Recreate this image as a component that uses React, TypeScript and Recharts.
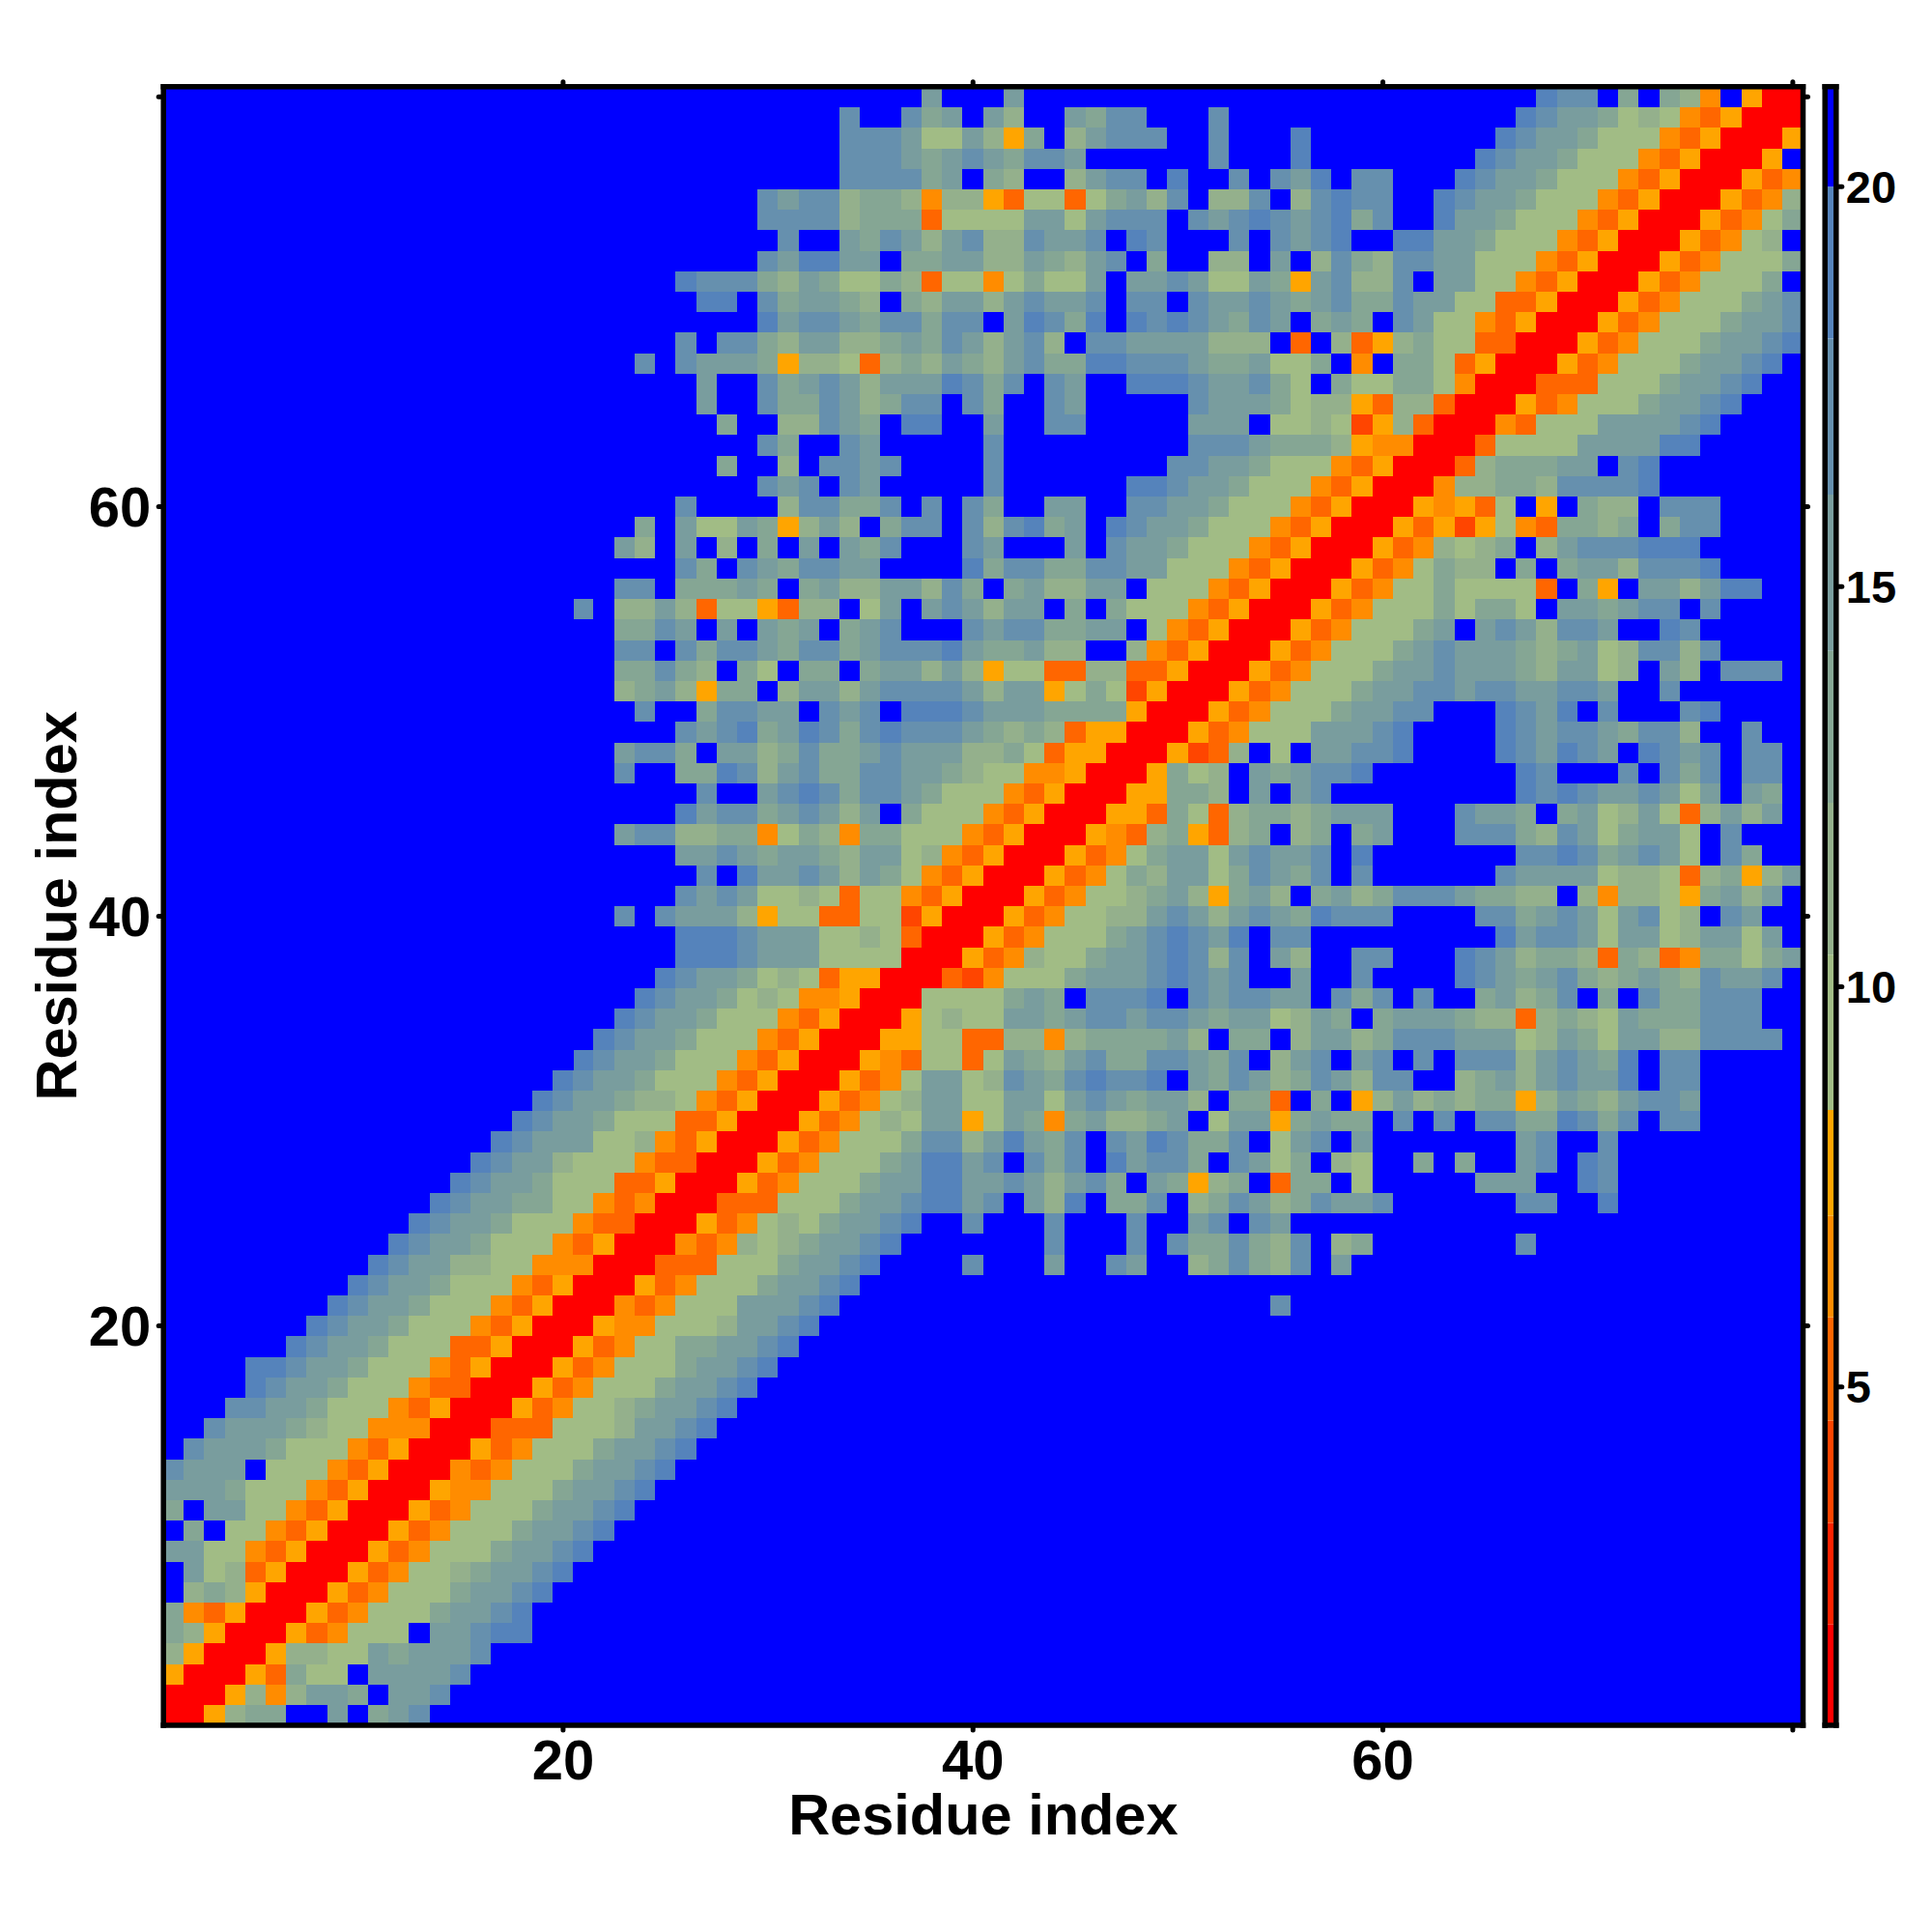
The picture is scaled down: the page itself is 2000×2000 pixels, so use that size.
import React from "react";
import { Bar, BarChart, Scatter, ScatterChart, XAxis, YAxis } from "recharts";

// distance matrix is symmetric, so only the half with column <= row is listed
// rows 1-32, starting at column 1
const nearRows = [
  "R",
  "RR",
  "YRR",
  "2YRR",
  "32YRR",
  "3OPYRR",
  "B232YRR",
  "B412PYRR",
  "4411OPYRR",
  "B3B11OPYRR",
  "3B4411OPYRR",
  "444311 1OPYRR",
  "5444B111OPYRR",
  "B54443111OPYRR",
  "BB5444321 1OOORR",
  "BBB55443111OPYRR",
  "BBBB65443111OPPRR",
  "BBBB665443111OPYRR",
  "BBBBBB65443111PPYRR",
  "BBBBBBB65443111OPYRR",
  "BBBBBBBB65443111OPYR R",
  "BBBBBBBBB65443111OPY RR",
  "BBBBBBBBBB65442211OO ORR",
  "BBBBBBBBBBB65443111O PYRR",
  "BBBBBBBBBBBB65443111 OPPRR",
  "BBBBBBBBBBBBB6544331 1OPORR",
  "BBBBBBBBBBBBBB654431 11PPYRR",
  "BBBBBBBBBBBBBBB65442 111OPPRR",
  "BBBBBBBBBBBBBBBB6544 4112OPYRR",
  "BBBBBBBBBBBBBBBBB654 43111PPYRR",
  "BBBBBBBBBBBBBBBBBB65 443221OPYRR",
  "BBBBBBBBBBBBBBBBBBB6 5443111OPYRR",
];

// rows 33-80, starting at column 21 (everything further left is blue)
const farRows = [
  "65443111OPYRR",
  "B65443111OPYRR",
  "BB65443111OPYRR",
  "BBB65443121OOYRR",
  "BBBB65443121PYYRR",
  "BBBBB666544411 11RR",
  "BBBBB66654441121PRR",
  "BB5B54442Y11PP11QYRR",
  "BBBBB54541121P11OPYR R",
  "BBBBBB5B644542431OPY RR",
  "BBBBB4454344324412OP YRR",
  "BB4552233O132O33111O PYRR",
  "BBBBB6455345424B3111 OPYRR",
  "BBBBBB5BB45653554311 1OPYRR",
  "BB5BB336524533554432 11OOYRR",
  "BB4553B4423533454442 231PYYRR",
  "BBBBB545634653565554 3232PYYRR",
  "BBB5BB35544B545B6665 4443333YRR",
  "BB2342Y33B2442455554 244Y131QYRR",
  "BB33532B31B33B344242 Y11PP22PPYRR",
  "BB55B535543553455564 33422BB2OPYRR",
  "BB3354B4B434B345BBB5 4553344B1OPYRR",
  "5B2242P11YP22B14B454 244B3B3111OPYRR",
  "BB55B33343B342244253 B342244B111OPYRR",
  "BBBBB53B5435544BBBB6 355335544111OPYRR",
  "BB42B4B2B3B4B435BBB5 4BBB4B5443111OPYRR",
  "BBB3B41143Y242B355B5 25634B65443111OPYRR",
  "BBBBB5BBBB255335B5B5 3BB44BB55443111OPYRR",
  "BBBBBBBBB545B54BBBBB 5BBBBBB665443111OPYR R",
  "BBBBBBB3BB2B5545BBBB 5BBBBBBBB55443111OPY RR",
  "BBBBBBBBB53BB54BBBBB 5BBBBBBBBB55543332YO ORR",
  "BBBBBBB3BB22543B66BB 4BB55BBBBB444B1121QY 2PRR",
  "BBBBBB4BB533542355B5 3BB54BBBBB54443122YP 22PRR",
  "BBBBBB4BB53454244465 35B54BB666544531B311 331ORR",
  "BBB5B54443Y221P23243 24533665554334113BOB 331PYRR",
  "BBBBB5B5532442234354 2452B554444222BPB2PY 2311PPRR",
  "BBBBBBBBB64554355355 B46536B65654354B343B 5411OPYRR",
  "BBBBBB66B534432B3244 245445B55B5445434533 54411PPYRR",
  "BBBBB655532431132P11 O13114B44541143Y4522 5B4411OPYRR",
  "BBBBBBBBB546644B3344 2243245B3BB22B4B2532 5544111OPYRR",
  "BBBBBBBBBB5BB4354245 225445B65BBB5B5456BB 66443111OPYRR",
  "BBBBBBBBB55552333P11 114414555B5456545635 BB6443111OPYRR",
  "BBBBBBBBB54552332O22 YP11P13425B225B25655 BB65443111OPYRR",
  "BBBBBBBBBBBBB555534B 32BB2455B6BB5B546B55 BBB65443111OPYRR",
  "BBBBBBBBBBBBB5554345 43554BBBBBB5BBB6BBBB BBBB65443111OPYRR",
  "BBBBBBBBBBBBB5554114 2Y3B24555BB5BBB6BBBB BBBBB65443111OPYRR",
  "BBBBBBBBBBBBB5BB534B 42BB4355BBB5BBBBBBBB BBBBBB65443121OPYRR",
  "BBBBBBBBBBBBBBBBB4BB B4BBBBBBBBBBBBBBBBBB BBBBBBB655B3B32OBYRR",
];

// estimated value of each letter used in the rows above
const letterValues: Record<string, number> = {
  R: 1.4, Q: 3.9, P: 5.2, O: 6.5, Y: 7.8,
  "1": 9.4, "2": 11.3, "3": 13.2, "4": 15.2, "5": 17.1, "6": 19, B: 21,
};

const bandEdges = [0.77, 2.03, 3.3, 4.58, 5.87, 7.14, 8.46, 10.4, 12.3, 14.2, 16.15, 18.1, 20, 21.25];
const bandColors = [
  "#ff0000", "#ff2200", "#ff4500", "#ff6600", "#ff8c00", "#ffa500",
  "#a1bc85", "#94b08c", "#85a694", "#799d9e", "#6690ae", "#5583bb", "#0000ff",
];

const axisTicks = [20, 40, 60, 80];
const barTicks = [5, 10, 15, 20];
const cornerPoints = [{ x: 1, y: 1 }, { x: 80, y: 80 }];

const FONT = "'Liberation Sans', Arial, sans-serif";
const LEFT = 169.2;
const RIGHT = 1866.5;
const TOP = 89.7;
const BOTTOM = 1786;
const CELL = (RIGHT - LEFT) / 80;
const BAR_LEFT = 1889.2;
const BAR_RIGHT = 1900.8;

function colorFor(value: number) {
  const i = bandEdges.findIndex((e) => value < e);
  return bandColors[i - 1];
}

const cells: { x: number; y: number; value: number }[] = [];
const addRow = (text: string, row: number, startCol: number) => {
  text.replace(/ /g, "").split("").forEach((ch, i) => {
    const col = startCol + i;
    const value = letterValues[ch];
    cells.push({ x: col, y: row, value });
    if (col !== row) cells.push({ x: row, y: col, value });
  });
};
nearRows.forEach((t, i) => addRow(t, i + 1, 1));
farRows.forEach((t, i) => addRow(t, i + 33, 21));
// the left part of rows 33-80 is plain blue
for (let row = 33; row <= 80; row++) {
  for (let col = 1; col <= 20; col++) {
    cells.push({ x: col, y: row, value: letterValues.B });
    cells.push({ x: row, y: col, value: letterValues.B });
  }
}

const bandRow: Record<string, number | string> = { name: "scale", start: bandEdges[0] };
bandColors.forEach((_, i) => {
  bandRow[`b${i}`] = bandEdges[i + 1] - bandEdges[i];
});

const HeatCell = (props: any) => (
  <rect
    x={props.cx - CELL / 2 - 0.3}
    y={props.cy - CELL / 2 - 0.3}
    width={CELL + 0.6}
    height={CELL + 0.6}
    fill={colorFor(props.payload.value)}
    shapeRendering="crispEdges"
  />
);
const NoMark = () => null;

const layer: React.CSSProperties = { position: "absolute", left: 0, top: 0 };
const frameLine = { stroke: "#000", strokeWidth: 5.5, strokeLinecap: "square" as const };
const tickLine = { stroke: "#000", strokeWidth: 5, strokeLinecap: "round" as const };
const bigTick = { fontFamily: FONT, fontSize: 58, fontWeight: 700, fill: "#000" };
const title = { fontFamily: FONT, fontSize: 59.5, fontWeight: 700, fill: "#000" };
const hideLast = (v: number) => (v === 80 ? "" : String(v));
const noLabel = () => "";

// axis width/height of 1 is taken back out of the margins (0 would drop the axis)
const frameMargin = { left: LEFT - 1, right: 2000 - RIGHT - 1, top: TOP - 1, bottom: 2000 - BOTTOM - 1 };

export default function App() {
  return (
    <div style={{ position: "absolute", left: 0, top: 0, width: 2000, height: 2000, background: "#fff" }}>
      <div style={layer}>
        <ScatterChart width={2000} height={2000} margin={{ left: LEFT, right: 2000 - RIGHT, top: TOP, bottom: 2000 - BOTTOM }}>
          <XAxis hide type="number" dataKey="x" domain={[0.5, 80.5]} />
          <YAxis hide type="number" dataKey="y" domain={[0.5, 80.5]} />
          <Scatter data={cells} shape={HeatCell} isAnimationActive={false} />
        </ScatterChart>
      </div>
      <div style={layer}>
        <BarChart
          width={2000}
          height={2000}
          data={[bandRow]}
          barCategoryGap={0}
          margin={{ left: BAR_LEFT, right: 2000 - BAR_RIGHT, top: TOP, bottom: 2000 - BOTTOM }}
        >
          <XAxis hide dataKey="name" />
          <YAxis hide type="number" domain={[bandEdges[0], bandEdges[bandEdges.length - 1]]} allowDataOverflow />
          <Bar dataKey="start" stackId="scale" fill="transparent" isAnimationActive={false} />
          {bandColors.map((c, i) => (
            <Bar key={c} dataKey={`b${i}`} stackId="scale" fill={c} isAnimationActive={false} />
          ))}
        </BarChart>
      </div>
      {/* frames and ticks sit in their own layers so the cells cannot cover them */}
      <div style={layer}>
        <ScatterChart width={2000} height={2000} margin={frameMargin}>
          <XAxis
            xAxisId={0}
            type="number"
            dataKey="x"
            domain={[0.5, 80.5]}
            ticks={axisTicks}
            interval={0}
            height={1}
            axisLine={frameLine}
            tickLine={tickLine}
            tickSize={5}
            tickMargin={10}
            tick={bigTick}
            tickFormatter={hideLast}
            label={{ value: "Residue index", position: "bottom", offset: 70, style: title }}
          />
          <XAxis
            xAxisId="top"
            orientation="top"
            type="number"
            dataKey="x"
            domain={[0.5, 80.5]}
            ticks={axisTicks}
            interval={0}
            height={1}
            axisLine={frameLine}
            tickLine={tickLine}
            tickSize={5}
            tickFormatter={noLabel}
          />
          <YAxis
            yAxisId={0}
            type="number"
            dataKey="y"
            domain={[0.5, 80.5]}
            ticks={axisTicks}
            interval={0}
            width={1}
            axisLine={frameLine}
            tickLine={tickLine}
            tickSize={5}
            tickMargin={8}
            tick={bigTick}
            tickFormatter={hideLast}
            label={{ value: "Residue index", position: "left", angle: -90, offset: 110, textAnchor: "middle", style: title }}
          />
          <YAxis
            yAxisId="right"
            orientation="right"
            type="number"
            dataKey="y"
            domain={[0.5, 80.5]}
            ticks={axisTicks}
            interval={0}
            width={1}
            axisLine={frameLine}
            tickLine={tickLine}
            tickSize={5}
            tickFormatter={noLabel}
          />
          <Scatter data={cornerPoints} xAxisId={0} yAxisId={0} shape={NoMark} isAnimationActive={false} />
          <Scatter data={cornerPoints} xAxisId="top" yAxisId="right" shape={NoMark} isAnimationActive={false} />
        </ScatterChart>
      </div>
      <div style={layer}>
        <BarChart
          width={2000}
          height={2000}
          data={[bandRow]}
          margin={{ left: BAR_LEFT - 1, right: 2000 - BAR_RIGHT - 1, top: TOP - 1, bottom: 2000 - BOTTOM - 1 }}
        >
          <XAxis dataKey="name" height={1} tick={false} tickLine={false} axisLine={frameLine} />
          <XAxis xAxisId="top" orientation="top" dataKey="name" height={1} tick={false} tickLine={false} axisLine={frameLine} />
          <YAxis
            yAxisId="left"
            type="number"
            domain={[bandEdges[0], bandEdges[bandEdges.length - 1]]}
            width={1}
            tick={false}
            tickLine={false}
            axisLine={frameLine}
          />
          <YAxis
            orientation="right"
            type="number"
            domain={[bandEdges[0], bandEdges[bandEdges.length - 1]]}
            allowDataOverflow
            ticks={barTicks}
            interval={0}
            width={1}
            axisLine={frameLine}
            tickLine={tickLine}
            tickSize={6}
            tickMargin={4}
            tick={{ fontFamily: FONT, fontSize: 47, fontWeight: 700, fill: "#000" }}
          />
          <Bar dataKey="start" fill="none" isAnimationActive={false} />
        </BarChart>
      </div>
    </div>
  );
}
